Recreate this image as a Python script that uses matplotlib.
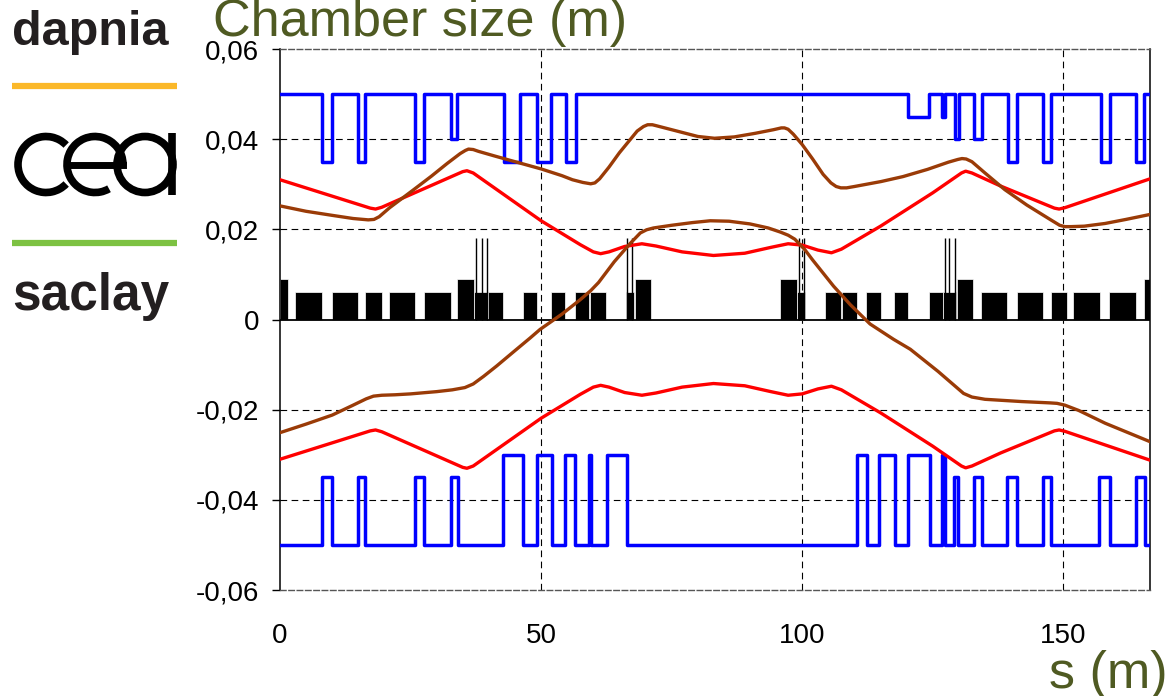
import matplotlib
matplotlib.use('Agg')
import matplotlib.pyplot as plt
from matplotlib.patches import Arc, Circle

plt.rcParams['font.family'] = ['Liberation Sans', 'DejaVu Sans']

# ---- data ----
# chamber (blue), step breakpoints s (m) and half-aperture (m)
ch_up_s = [0, 8.0, 9.9, 15.0, 16.3, 25.9, 27.6, 32.8, 33.9, 42.9, 46.0, 49.3, 51.9,
           54.7, 56.6, 120.3, 124.2, 126.8, 127.3, 129.2, 130.0, 132.9, 134.4,
           139.5, 141.1, 146.1, 147.6, 157.2, 158.9, 163.9, 165.4, 166.6]
ch_up = [0.05, 0.035, 0.05, 0.035, 0.05, 0.035, 0.05, 0.040, 0.05, 0.035, 0.05, 0.035, 0.05,
         0.035, 0.05, 0.045, 0.05, 0.045, 0.05, 0.040, 0.05, 0.040, 0.05,
         0.035, 0.05, 0.035, 0.05, 0.035, 0.05, 0.035, 0.05, 0.05]

ch_lo_s = [0, 8.0, 9.9, 15.0, 16.3, 25.9, 27.6, 32.8, 34.0, 42.7, 46.6, 49.3, 52.1,
           54.5, 56.5, 59.2, 59.6, 62.6, 66.5, 110.4, 112.4, 114.8, 117.7, 120.3,
           124.4, 126.7, 127.4, 129.1, 129.9, 132.9, 134.5, 139.2, 141.2, 146.1,
           147.6, 156.9, 158.9, 163.9, 165.6, 166.6]
ch_lo = [-0.05, -0.035, -0.05, -0.035, -0.05, -0.035, -0.05, -0.035, -0.05, -0.03, -0.05, -0.03, -0.05,
         -0.03, -0.05, -0.03, -0.05, -0.03, -0.05, -0.03, -0.05, -0.03, -0.05, -0.03,
         -0.05, -0.03, -0.05, -0.035, -0.05, -0.035, -0.05, -0.035, -0.05, -0.035,
         -0.05, -0.035, -0.05, -0.035, -0.05, -0.05]

# beam envelope (red)
env_s = [0, 17.3, 18.3, 19.5, 35.0, 35.8, 37.0, 50.0, 57.5, 60.0, 61.4, 63.0, 66.0, 69.3,
         72.0, 77.0, 83.0, 89.0, 94.0, 97.3, 100.0, 103.0, 105.6, 107.5, 115.0,
         125.0, 130.5, 131.3, 132.5, 138.0, 148.3, 149.2, 150.3, 166.6]
env_up = [0.0310, 0.0247, 0.0245, 0.0249, 0.0328, 0.0330, 0.0325, 0.0219, 0.0166, 0.0150, 0.0146,
          0.0150, 0.0162, 0.0168, 0.0163, 0.0150, 0.0142, 0.0147, 0.0160, 0.0168, 0.0165,
          0.0154, 0.0148, 0.0156, 0.0207, 0.0281, 0.0325, 0.0329, 0.0325, 0.0296, 0.0247,
          0.0245, 0.0248, 0.0312]
env_lo = [-0.0310, -0.0247, -0.0245, -0.0249, -0.0328, -0.0330, -0.0325, -0.0219, -0.0166, -0.0150, -0.0146,
          -0.0150, -0.0162, -0.0168, -0.0163, -0.0150, -0.0142, -0.0147, -0.0160, -0.0168, -0.0165,
          -0.0154, -0.0148, -0.0156, -0.0207, -0.0281, -0.0325, -0.0329, -0.0325, -0.0296, -0.0247,
          -0.0245, -0.0248, -0.0312]

# brown curves
br1_s = [0, 5, 10, 14, 16.9, 18.0, 19.0, 21, 25.6, 29, 32, 34.5, 35.5, 36.1, 37.0, 38, 41,
         44.7, 50, 54, 56, 58, 59.5, 60.3, 61.2, 63, 65, 68.4, 69.6, 70.4, 71.3, 72, 76,
         80, 83.2, 87, 91, 94.5, 96.0, 96.6, 97.3, 98.3, 100, 102, 104, 105.5, 106.5,
         107.4, 108.5, 110, 115.1, 119.3, 124, 128, 129.8, 130.6, 131.4, 132.5, 135,
         138.8, 143, 147.6, 149.3, 150.3, 151.5, 154, 158, 162, 166.6]
br1 = [0.0252, 0.0240, 0.0231, 0.0224, 0.0221, 0.0222, 0.0228, 0.0248, 0.0288, 0.0318,
       0.0346, 0.0368, 0.0375, 0.0378, 0.0377, 0.0373, 0.0363, 0.0351, 0.0334, 0.0319,
       0.0310, 0.0304, 0.0301, 0.0303, 0.0312, 0.0338, 0.0370, 0.0418, 0.0428, 0.0432,
       0.0432, 0.0430, 0.0418, 0.0406, 0.0402, 0.0405, 0.0413, 0.0421, 0.0425, 0.0425,
       0.0422, 0.0411, 0.0388, 0.0356, 0.0322, 0.0303, 0.0295, 0.0292, 0.0292, 0.0295,
       0.0306, 0.0317, 0.0333, 0.0349, 0.0355, 0.0357, 0.0356, 0.0350, 0.0325, 0.0288,
       0.0254, 0.0221, 0.0209, 0.0206, 0.0206, 0.0207, 0.0213, 0.0222, 0.0233]

br2_s = [0, 5, 10, 14, 16.5, 17.9, 19.5, 22, 25, 30, 33, 35.4, 37, 39, 41.5, 45, 47.9,
         49.8, 54, 57.5, 59.5, 61, 64, 67, 69.0, 70.2, 71.5, 75, 79, 82.4, 86, 90, 93.5,
         95.8, 97.3, 98.6, 100.5, 102, 104, 106, 109.2, 113, 117.5, 120.7, 126, 129.5,
         130.9, 132.5, 135, 142, 147.5, 148.8, 150.3, 153, 158, 166.6]
br2 = [-0.0251, -0.0232, -0.0212, -0.0190, -0.0176, -0.0170, -0.0168, -0.0167, -0.0165,
       -0.0160, -0.0156, -0.0151, -0.0143, -0.0126, -0.0103, -0.0069, -0.0041, -0.0022,
       0.0012, 0.0044, 0.0064, 0.0082, 0.0128, 0.0168, 0.0192, 0.0199, 0.0203, 0.0209,
       0.0215, 0.0219, 0.0218, 0.0212, 0.0203, 0.0194, 0.0187, 0.0178, 0.0155, 0.0132,
       0.0103, 0.0074, 0.0033, -0.0010, -0.0044, -0.0066, -0.0115, -0.0150, -0.0164,
       -0.0172, -0.0177, -0.0182, -0.0185, -0.0186, -0.0190, -0.0202, -0.0230, -0.0271]

# magnets (black): start s, length, height
mag_s = [0, 2.9, 9.9, 16.3, 20.8, 27.6, 33.9, 37.2, 39.9, 46.5, 51.9, 56.4, 59.3,
         66.3, 67.9, 95.8, 99.0, 104.3, 107.7, 112.2, 117.6, 124.2, 126.9, 129.7,
         134.2, 141.1, 147.6, 151.9, 158.8, 165.4]
mag_len = [1.6, 5.1, 5.1, 3.2, 5.1, 5.2, 3.3, 2.7, 2.8, 2.7, 2.7, 2.8, 3.2,
           1.5, 3.1, 3.2, 1.6, 3.2, 2.8, 2.8, 2.7, 2.7, 2.6, 3.1,
           5.1, 5.1, 3.1, 5.1, 5.1, 1.2]
mag_h = [0.009, 0.006, 0.006, 0.006, 0.006, 0.006, 0.009, 0.006, 0.006, 0.006, 0.006, 0.006, 0.006,
         0.006, 0.009, 0.009, 0.006, 0.006, 0.006, 0.006, 0.006, 0.006, 0.006, 0.009,
         0.006, 0.006, 0.006, 0.006, 0.006, 0.009]
thin_s = [37.6, 38.6, 39.7, 66.5, 67.4, 99.4, 100.3, 127.3, 128.2, 129.2]
thin_h = 0.018

yticks = [-0.06, -0.04, -0.02, 0, 0.02, 0.04, 0.06]
yticklabels = ['-0,06', '-0,04', '-0,02', '0', '0,02', '0,04', '0,06']
xticks = [0, 50, 100, 150]
xticklabels = ['0', '50', '100', '150']

W, H = 1166, 696
fig = plt.figure(figsize=(W / 100, H / 100), dpi=100)
ax = fig.add_axes([280 / W, 1 - 590 / H, (1150 - 280) / W, (590 - 49) / H])

ax.bar(mag_s, mag_h, width=mag_len, align='edge', color='black',
       edgecolor='white', linewidth=0.5, zorder=2)
ax.vlines(thin_s, 0, thin_h, color='black', lw=1.0, zorder=2)

ax.step(ch_up_s, ch_up, where='post', color='#0000ff', lw=2.5, zorder=3)
ax.step(ch_lo_s, ch_lo, where='post', color='#0000ff', lw=2.5, zorder=3)
ax.plot(env_s, env_up, color='#ff0000', lw=2.4, zorder=4)
ax.plot(env_s, env_lo, color='#ff0000', lw=2.4, zorder=4)
ax.plot(br1_s, br1, color='#9a3b07', lw=2.4, zorder=5)
ax.plot(br2_s, br2, color='#9a3b07', lw=2.4, zorder=5)

# grid
for y in [-0.04, -0.02, 0.02, 0.04]:
    ax.axhline(y, color='black', lw=0.8, dashes=(6, 4), zorder=1)
for x in [50, 100, 150]:
    ax.axvline(x, color='black', lw=0.8, dashes=(6, 4), zorder=1)
ax.axhline(0, color='black', lw=1.3, zorder=2)

ax.set_xlim(0, 166.6)
ax.set_ylim(-0.06, 0.06)
ax.set_yticks(yticks)
ax.set_yticklabels(yticklabels)
ax.set_xticks(xticks)
ax.set_xticklabels(xticklabels)
ax.tick_params(axis='y', direction='out', length=6, width=1, pad=9, labelsize=20)
ax.tick_params(axis='x', length=0, pad=24, labelsize=20)

for side in ['left', 'right']:
    ax.spines[side].set_color('black')
    ax.spines[side].set_linewidth(1.1)
for side in ['top', 'bottom']:
    ax.spines[side].set_color('#555555')
    ax.spines[side].set_linewidth(1.0)
    ax.spines[side].set_linestyle((0, (4, 2)))

# overlay in pixel coordinates for logo and titles
ov = fig.add_axes([0, 0, 1, 1])
ov.set_xlim(0, W)
ov.set_ylim(H, 0)
ov.axis('off')
ov.patch.set_visible(False)

ov.text(213, 36, 'Chamber size (m)', fontsize=37.5, color='#4f5a22', ha='left', va='baseline')
ov.text(1049, 688, 's (m)', fontsize=37.5, color='#4f5a22', ha='left', va='baseline')

ov.text(12, 45, 'dapnia', fontsize=35, fontweight='bold', color='#231f20', ha='left', va='baseline')
ov.plot([12, 177], [85.5, 85.5], color='#fbb829', lw=4.5, solid_capstyle='butt')
ov.plot([12, 177], [243, 243], color='#7dc242', lw=4.5, solid_capstyle='butt')
ov.text(12, 310, 'saclay', fontsize=37, fontweight='bold', color='#231f20', ha='left', va='baseline')

# cea logo
r = 28
ov.add_patch(Arc((46, 164.5), 2 * r, 2 * r, theta1=44, theta2=316, color='black', lw=5.5))
ov.add_patch(Arc((95, 164.5), 2 * r, 2 * r, theta1=60, theta2=360, color='black', lw=5.5))
ov.plot([67, 123], [164.5, 164.5], color='black', lw=5)
ov.add_patch(Circle((145, 164.5), r, fill=False, color='black', lw=5.5))
ov.plot([171.5, 171.5], [133, 195], color='black', lw=5.5, solid_capstyle='butt')

fig.savefig('out.png', dpi=100)
